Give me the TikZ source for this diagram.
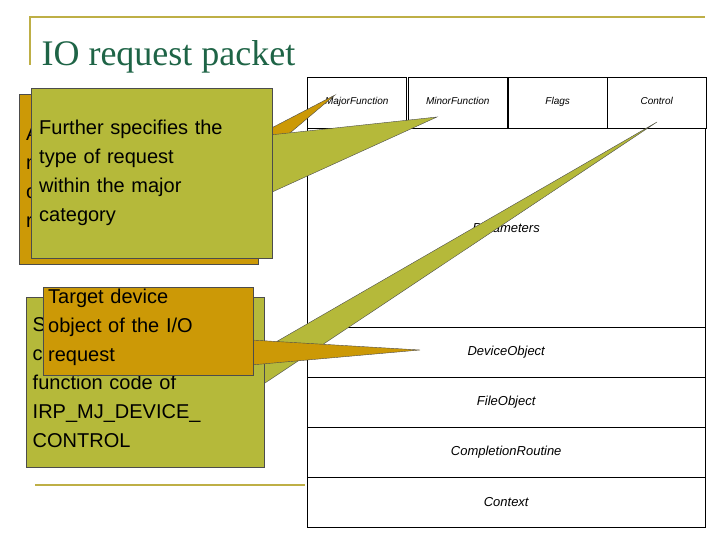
\documentclass[tikz,border=0pt]{standalone}
\usepackage{fontspec}
\setmainfont{Liberation Serif}
\newfontfamily\sans{Liberation Sans}
\definecolor{boxgreen}{RGB}{181,185,58}
\definecolor{boxgold}{RGB}{204,153,6}
\definecolor{titlegreen}{RGB}{30,100,70}
\definecolor{rulegold}{RGB}{190,175,70}

\tikzset{
    note/.style={draw=black!70,thin,anchor=north west,align=left,inner xsep=4pt,
        inner ysep=0pt,font=\sans\fontsize{20}{29}\selectfont},
    cell/.style={draw,thin,anchor=north west,font=\sans\itshape\fontsize{13}{15}\selectfont},
    topcell/.style={cell,font=\sans\itshape\fontsize{10}{12}\selectfont}
}

\begin{document}
\begin{tikzpicture}[x=1pt,y=-1pt]
\useasboundingbox (0,0) rectangle (720,540);

% Slide decoration.
\draw[rulegold,line width=1.5pt] (30,65) -- (30,17) -- (705,17);
\draw[rulegold,line width=1.5pt] (35,485) -- (305,485);
\node[anchor=base west,text=titlegreen,font=\fontsize{36}{40}\selectfont]
    (title) at (38,66) {IO request packet};

% IRP layout table.
\foreach \x/\t/\n in {307/MajorFunction/maj,408/MinorFunction/min,508/Flags/flg,607/Control/ctl} {
    \node[topcell,minimum width=99pt,minimum height=51pt,anchor=north west,
        text depth=0pt,inner sep=0pt] (\n) at (\x,77) {};
    \node[topcell,draw=none,anchor=base] at ([yshift=-28pt]\n.north) {\t};
}
\node[cell,minimum width=398pt,minimum height=199pt] (par) at (307,128) {Parameters};
\foreach \y/\t/\n in {327/DeviceObject/dev,377/FileObject/fil,427/CompletionRoutine/cpl,477/Context/ctx} {
    \node[cell,minimum width=398pt,minimum height=50pt] (\n) at (307,\y) {\t};
}

% Upper callouts.
\coordinate (majtip) at (335,95);
\coordinate (mintip) at (437,117);
\node[note,fill=boxgold,minimum width=239pt,minimum height=170pt,text width=225pt]
    (mjnote) at (19,94) {A code for the\\major function\\of the IRP\\request};
\fill[boxgold,draw=black!70,thin] (258,135) -- (majtip) -- (258,160) -- cycle;
\fill[boxgreen,draw=black!70,thin] (270,135) -- (mintip) -- (270,193) -- cycle;
\node[note,fill=boxgreen,minimum width=241pt,minimum height=170pt,text width=225pt]
    (mnnote) at (31,88) {Further specifies the\\type of request\\within the major\\category};

% Lower callouts.
\coordinate (ctltip) at (657,122);
\coordinate (devtip) at (420,350);
\fill[boxgreen,draw=black!70,thin] (262,350) -- (ctltip) -- (262,385) -- cycle;
\node[note,fill=boxgreen,minimum width=238pt,minimum height=170pt,text width=225pt]
    (ctlnote) at (26,297) {\\[-14pt]Specifies I/O\\control code for\\function code of\\IRP\_MJ\_DEVICE\_\\CONTROL};
\fill[boxgold,draw=black!70,thin] (251,340) -- (devtip) -- (251,365) -- cycle;
\node[note,fill=boxgold,minimum width=210pt,minimum height=88pt,text width=200pt,
    inner xsep=5pt]
    (devnote) at (43,287) {\\[-22pt]Target device\\object of the I/O\\request};

\end{tikzpicture}
\end{document}
